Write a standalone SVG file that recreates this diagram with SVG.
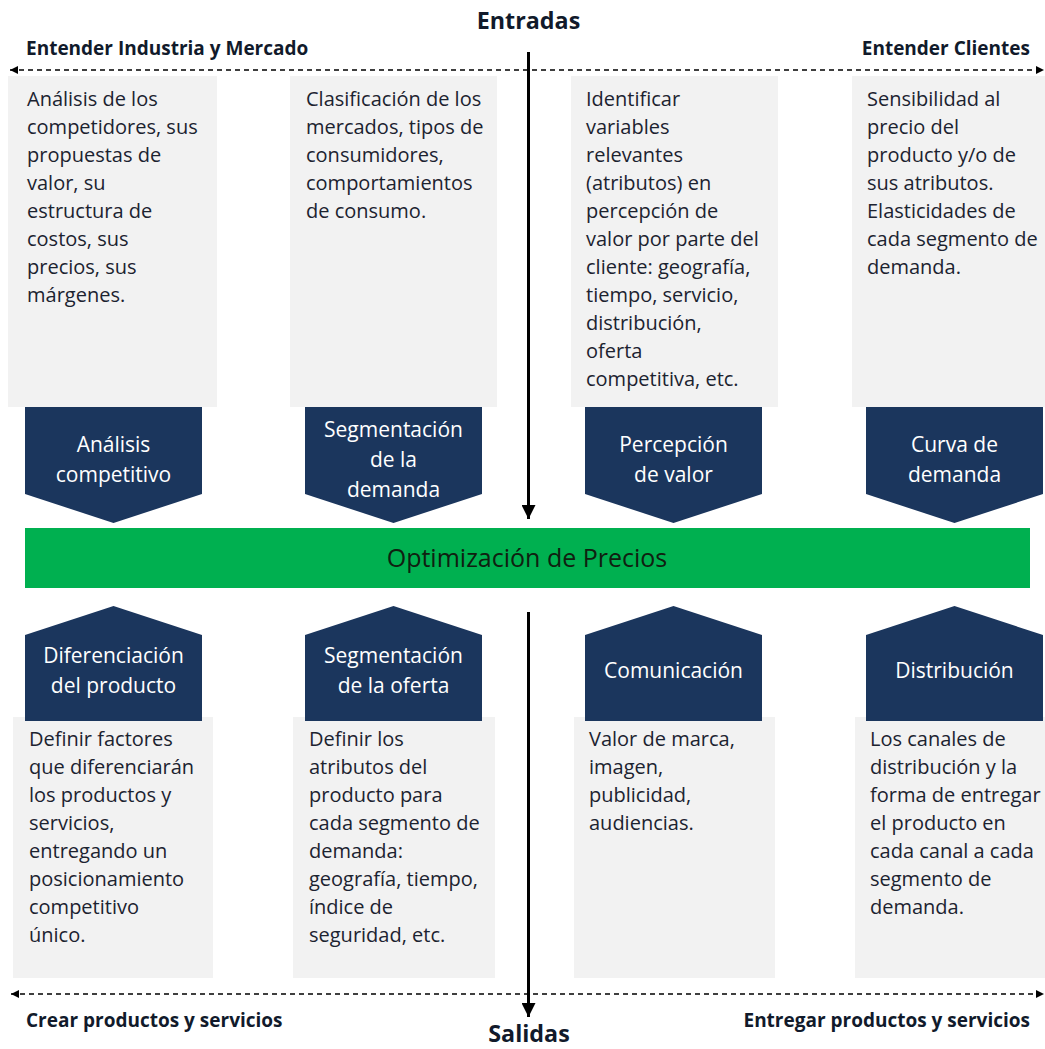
<svg xmlns="http://www.w3.org/2000/svg" width="1045" height="1049" viewBox="0 0 1045 1049">
  <defs>
    <style>
      .bg { fill: #ffffff; }
      .box { fill: #f2f2f2; }
      .pent { fill: #1b365d; }
      .bar { fill: #00b050; }
      .body { font-family: "Open Sans", "Liberation Sans", sans-serif; font-size: 20px; fill: #1c2330; }
      .ptxt { font-family: "Open Sans", "Liberation Sans", sans-serif; font-size: 21px; fill: #ffffff; text-anchor: middle; }
      .head { font-family: "Open Sans", "Liberation Sans", sans-serif; font-size: 19px; font-weight: bold; fill: #111a2b; }
      .title { font-family: "Open Sans", "Liberation Sans", sans-serif; font-size: 23.3px; font-weight: bold; fill: #111a2b; text-anchor: middle; }
      .bartxt { font-family: "Open Sans", "Liberation Sans", sans-serif; font-size: 25px; fill: #102010; text-anchor: middle; }
      .dash { stroke: #000; stroke-width: 1.6; stroke-dasharray: 5 4; fill: none; }
      .flow { stroke: #000; stroke-width: 3; fill: none; }
    </style>
    <marker id="dashHead" viewBox="0 0 10 10" refX="10" refY="5" markerWidth="10" markerHeight="8" markerUnits="userSpaceOnUse" orient="auto-start-reverse">
      <path d="M0,0 L10,5 L0,10 Z" fill="#000"/>
    </marker>
    <marker id="flowHead" viewBox="0 0 14 14" refX="14" refY="7" markerWidth="14" markerHeight="14" markerUnits="userSpaceOnUse" orient="auto">
      <path d="M0,0 L14,7 L0,14 Z" fill="#000"/>
    </marker>
  </defs>

  <rect class="bg" x="0" y="0" width="1045" height="1049"/>

  <!-- Input detail boxes -->
  <g id="in-competencia">
    <rect class="box" x="8" y="76" width="209" height="331"/>
    <text class="body">
      <tspan x="27" y="106">Análisis de los</tspan>
      <tspan x="27" y="134">competidores, sus</tspan>
      <tspan x="27" y="162">propuestas de</tspan>
      <tspan x="27" y="190">valor, su</tspan>
      <tspan x="27" y="218">estructura de</tspan>
      <tspan x="27" y="246">costos, sus</tspan>
      <tspan x="27" y="274">precios, sus</tspan>
      <tspan x="27" y="302">márgenes.</tspan>
    </text>
  </g>
  <g id="in-mercados">
    <rect class="box" x="290" y="76" width="207" height="331"/>
    <text class="body">
      <tspan x="306" y="106">Clasificación de los</tspan>
      <tspan x="306" y="134">mercados, tipos de</tspan>
      <tspan x="306" y="162">consumidores,</tspan>
      <tspan x="306" y="190">comportamientos</tspan>
      <tspan x="306" y="218">de consumo.</tspan>
    </text>
  </g>
  <g id="in-variables">
    <rect class="box" x="571" y="76" width="207" height="331"/>
    <text class="body">
      <tspan x="586" y="106">Identificar</tspan>
      <tspan x="586" y="134">variables</tspan>
      <tspan x="586" y="162">relevantes</tspan>
      <tspan x="586" y="190">(atributos) en</tspan>
      <tspan x="586" y="218">percepción de</tspan>
      <tspan x="586" y="246">valor por parte del</tspan>
      <tspan x="586" y="274">cliente: geografía,</tspan>
      <tspan x="586" y="302">tiempo, servicio,</tspan>
      <tspan x="586" y="330">distribución,</tspan>
      <tspan x="586" y="358">oferta</tspan>
      <tspan x="586" y="386">competitiva, etc.</tspan>
    </text>
  </g>
  <g id="in-sensibilidad">
    <rect class="box" x="852" y="76" width="193" height="331"/>
    <text class="body">
      <tspan x="867" y="106">Sensibilidad al</tspan>
      <tspan x="867" y="134">precio del</tspan>
      <tspan x="867" y="162">producto y/o de</tspan>
      <tspan x="867" y="190">sus atributos.</tspan>
      <tspan x="867" y="218">Elasticidades de</tspan>
      <tspan x="867" y="246">cada segmento de</tspan>
      <tspan x="867" y="274">demanda.</tspan>
    </text>
  </g>

  <!-- Input chevrons pointing down -->
  <g id="analisis-competitivo">
    <path class="pent" d="M25,407 H202 V494 L113.5,523 L25,494 Z"/>
    <text class="ptxt"><tspan x="113.5" y="452">Análisis</tspan><tspan x="113.5" y="482">competitivo</tspan></text>
  </g>
  <g id="segmentacion-demanda">
    <path class="pent" d="M305,407 H482 V494 L393.5,523 L305,494 Z"/>
    <text class="ptxt"><tspan x="393.5" y="437">Segmentación</tspan><tspan x="393.5" y="467">de la</tspan><tspan x="393.5" y="497">demanda</tspan></text>
  </g>
  <g id="percepcion-valor">
    <path class="pent" d="M585,407 H762 V494 L673.5,523 L585,494 Z"/>
    <text class="ptxt"><tspan x="673.5" y="452">Percepción</tspan><tspan x="673.5" y="482">de valor</tspan></text>
  </g>
  <g id="curva-demanda">
    <path class="pent" d="M866,407 H1043 V494 L954.5,523 L866,494 Z"/>
    <text class="ptxt"><tspan x="954.5" y="452">Curva de</tspan><tspan x="954.5" y="482">demanda</tspan></text>
  </g>

  <!-- Central bar -->
  <g id="optimizacion-precios">
    <rect class="bar" x="25" y="528" width="1005" height="60"/>
    <text class="bartxt" x="527" y="567">Optimización de Precios</text>
  </g>

  <!-- Output detail boxes -->
  <g id="out-factores">
    <rect class="box" x="13" y="717" width="200" height="261"/>
    <text class="body">
      <tspan x="29" y="746">Definir factores</tspan>
      <tspan x="29" y="774">que diferenciarán</tspan>
      <tspan x="29" y="802">los productos y</tspan>
      <tspan x="29" y="830">servicios,</tspan>
      <tspan x="29" y="858">entregando un</tspan>
      <tspan x="29" y="886">posicionamiento</tspan>
      <tspan x="29" y="914">competitivo</tspan>
      <tspan x="29" y="942">único.</tspan>
    </text>
  </g>
  <g id="out-atributos">
    <rect class="box" x="293" y="717" width="202" height="261"/>
    <text class="body">
      <tspan x="309" y="746">Definir los</tspan>
      <tspan x="309" y="774">atributos del</tspan>
      <tspan x="309" y="802">producto para</tspan>
      <tspan x="309" y="830">cada segmento de</tspan>
      <tspan x="309" y="858">demanda:</tspan>
      <tspan x="309" y="886">geografía, tiempo,</tspan>
      <tspan x="309" y="914">índice de</tspan>
      <tspan x="309" y="942">seguridad, etc.</tspan>
    </text>
  </g>
  <g id="out-marca">
    <rect class="box" x="574" y="717" width="201" height="261"/>
    <text class="body">
      <tspan x="589" y="746">Valor de marca,</tspan>
      <tspan x="589" y="774">imagen,</tspan>
      <tspan x="589" y="802">publicidad,</tspan>
      <tspan x="589" y="830">audiencias.</tspan>
    </text>
  </g>
  <g id="out-canales">
    <rect class="box" x="855" y="717" width="190" height="261"/>
    <text class="body">
      <tspan x="870" y="746">Los canales de</tspan>
      <tspan x="870" y="774">distribución y la</tspan>
      <tspan x="870" y="802">forma de entregar</tspan>
      <tspan x="870" y="830">el producto en</tspan>
      <tspan x="870" y="858">cada canal a cada</tspan>
      <tspan x="870" y="886">segmento de</tspan>
      <tspan x="870" y="914">demanda.</tspan>
    </text>
  </g>

  <!-- Output chevrons pointing up -->
  <g id="diferenciacion-producto">
    <path class="pent" d="M25,635 L113.5,606 L202,635 V721 H25 Z"/>
    <text class="ptxt"><tspan x="113.5" y="663">Diferenciación</tspan><tspan x="113.5" y="693">del producto</tspan></text>
  </g>
  <g id="segmentacion-oferta">
    <path class="pent" d="M305,635 L393.5,606 L482,635 V721 H305 Z"/>
    <text class="ptxt"><tspan x="393.5" y="663">Segmentación</tspan><tspan x="393.5" y="693">de la oferta</tspan></text>
  </g>
  <g id="comunicacion">
    <path class="pent" d="M585,635 L673.5,606 L762,635 V721 H585 Z"/>
    <text class="ptxt" x="673.5" y="678">Comunicación</text>
  </g>
  <g id="distribucion">
    <path class="pent" d="M866,635 L954.5,606 L1043,635 V721 H866 Z"/>
    <text class="ptxt" x="954.5" y="678">Distribución</text>
  </g>

  <!-- Axis labels -->
  <g id="labels">
    <text class="title" x="528.5" y="29">Entradas</text>
    <text class="title" x="529" y="1042">Salidas</text>
    <text class="head" x="26" y="55">Entender Industria y Mercado</text>
    <text class="head" x="1030" y="55" text-anchor="end">Entender Clientes</text>
    <text class="head" x="26" y="1027">Crear productos y servicios</text>
    <text class="head" x="1030" y="1027" text-anchor="end">Entregar productos y servicios</text>
  </g>

  <!-- Connectors -->
  <g id="connectors">
    <line class="dash" x1="10" y1="70" x2="1044" y2="70" marker-start="url(#dashHead)" marker-end="url(#dashHead)"/>
    <line class="dash" x1="11" y1="994" x2="1044" y2="994" marker-start="url(#dashHead)" marker-end="url(#dashHead)"/>
    <line class="flow" x1="528.5" y1="52" x2="528.5" y2="519" marker-end="url(#flowHead)"/>
    <line class="flow" x1="528.5" y1="612" x2="528.5" y2="1017" marker-end="url(#flowHead)"/>
  </g>
</svg>
